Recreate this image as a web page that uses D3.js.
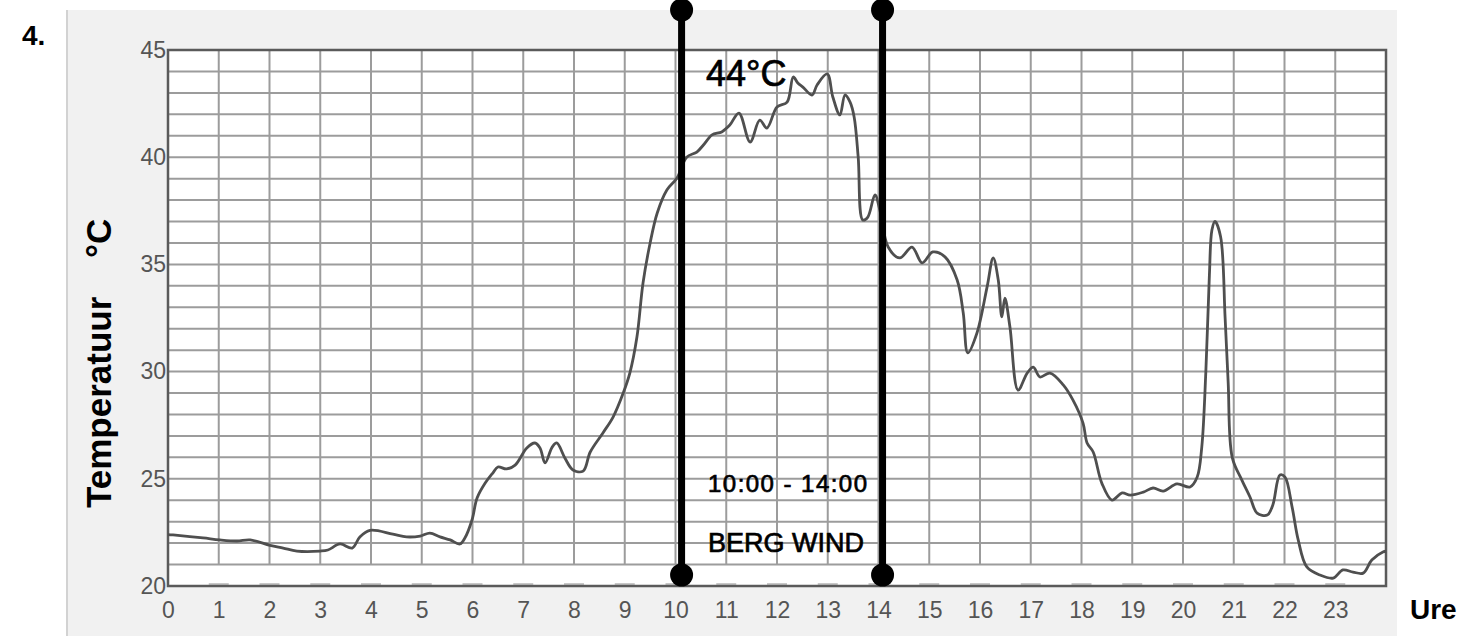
<!DOCTYPE html>
<html>
<head>
<meta charset="utf-8">
<script src="https://cdn.jsdelivr.net/npm/d3@7"></script>
<style>
  html, body { margin: 0; padding: 0; background: #fff; }
  svg { display: block; }
</style>
</head>
<body>
<svg id="chart" width="1473" height="636"></svg>
<script>
// hours of the day (x) and temperature in °C (y)
const hours = [
  0, 0.1, 0.69, 1.02, 1.36, 1.62, 2.01, 2.27, 2.54, 3.0, 3.15, 3.39, 3.63, 3.78, 3.98,
  4.43, 4.7, 4.97, 5.16, 5.36, 5.56, 5.75, 5.85, 5.99, 6.09, 6.25, 6.4, 6.5, 6.67, 6.84,
  7.07, 7.23, 7.33, 7.43, 7.57, 7.66, 7.82, 7.98, 8.18, 8.32, 8.57, 8.77, 8.97, 9.1,
  9.24, 9.36, 9.5, 9.64, 9.83, 10.03, 10.22, 10.42, 10.55, 10.72, 10.91, 11.07, 11.25,
  11.47, 11.66, 11.8, 12.0, 12.2, 12.32, 12.41, 12.51, 12.69, 12.79, 12.99, 13.1, 13.24,
  13.34, 13.44, 13.52, 13.6, 13.69, 13.79, 13.93, 14.03, 14.19, 14.42, 14.66, 14.86,
  15.07, 15.31, 15.55, 15.67, 15.76, 15.94, 16.14, 16.26, 16.36, 16.43, 16.49, 16.59,
  16.75, 16.93, 17.05, 17.18, 17.38, 17.64, 17.83, 18.03, 18.11, 18.23, 18.4, 18.6,
  18.8, 18.96, 19.22, 19.41, 19.61, 19.88, 20.14, 20.28, 20.37, 20.45, 20.52, 20.57,
  20.63, 20.74, 20.83, 20.89, 20.97, 21.16, 21.32, 21.46, 21.66, 21.77, 21.91, 22.01,
  22.15, 22.27, 22.44, 22.7, 22.96, 23.15, 23.35, 23.55, 23.72, 23.94, 24.0
]
const temps = [
  22.4, 22.38, 22.24, 22.15, 22.1, 22.15, 21.9, 21.77, 21.63, 21.63, 21.68, 21.96, 21.77, 22.29, 22.6,
  22.42, 22.29, 22.33, 22.47, 22.29, 22.15, 21.96, 22.24, 23.08, 24.1, 24.8, 25.27, 25.55, 25.46, 25.64,
  26.44, 26.67, 26.44, 25.74, 26.48, 26.67, 25.97, 25.41, 25.36, 26.25, 27.14, 27.88, 29.0, 29.93,
  31.61, 34.13, 36.0, 37.4, 38.47, 39.03, 40.0, 40.24, 40.57, 41.04, 41.18, 41.5, 42.06,
  40.71, 41.73, 41.36, 42.34, 42.57, 43.74, 43.46, 43.27, 42.9, 43.37, 43.88, 42.81, 41.97,
  42.9, 42.57, 41.88, 40.0, 37.07, 37.21, 38.24, 37.5, 35.81, 35.3, 35.81, 35.07,
  35.58, 35.35, 34.27, 32.73, 30.87, 31.8, 33.95, 35.3, 34.27, 32.55, 33.43, 32.08,
  29.14, 29.93, 30.21, 29.75, 29.93, 29.38, 28.68, 27.6, 26.67, 26.25, 24.8, 24.01,
  24.34, 24.24, 24.38, 24.57, 24.43, 24.76, 24.62, 25.08, 26.48, 30.0, 34.5, 36.6,
  37.0, 36.3, 32.5, 29.5, 26.0, 24.94, 24.15, 23.4, 23.31, 23.78, 25.18, 25.08,
  23.68, 22.15, 20.89, 20.51, 20.37, 20.75, 20.65, 20.6, 21.21, 21.59, 21.62
]

const xTicks = d3.range(0, 24)          // 0 .. 23
const yTicks = [20, 25, 30, 35, 40, 45]
const yMinor = d3.range(21, 45)          // one-degree grid lines
const bergWind = [10.12, 14.08]          // marker lines (10:00 and 14:00)

const width = 1473
const height = 636
const plot = { left: 168, right: 1386, top: 50, bottom: 586 }

const svg = d3.select('#chart')

const x = d3.scaleLinear([0, 24], [plot.left, plot.right])
const y = d3.scaleLinear([20, 45], [plot.bottom, plot.top])

// grey panel behind the chart
svg.append('rect')
  .attr('x', 67).attr('y', 10)
  .attr('width', 1330).attr('height', height - 10)
  .attr('fill', '#f1f1f1')
svg.append('line')
  .attr('x1', 67).attr('x2', 67).attr('y1', 10).attr('y2', height)
  .attr('stroke', '#d2d2d2').attr('stroke-width', 2)

// white plot area
svg.append('rect')
  .attr('x', plot.left).attr('y', plot.top)
  .attr('width', plot.right - plot.left).attr('height', plot.bottom - plot.top)
  .attr('fill', '#fff')

const grid = svg.append('g').attr('id', 'grid')
  .attr('stroke', '#9c9c9c').attr('stroke-width', 2)

grid.selectAll('line.h')
  .data(yMinor)
  .join('line')
  .attr('class', 'h')
  .attr('x1', plot.left).attr('x2', plot.right)
  .attr('y1', d => y(d)).attr('y2', d => y(d))

grid.selectAll('line.v')
  .data(xTicks.slice(1))
  .join('line')
  .attr('class', 'v')
  .attr('x1', d => x(d)).attr('x2', d => x(d))
  .attr('y1', y(45)).attr('y2', y(21))

// small ticks on the bottom axis
grid.selectAll('line.t')
  .data(xTicks.slice(1))
  .join('line')
  .attr('class', 't')
  .attr('x1', d => x(d) - 10).attr('x2', d => x(d) + 10)
  .attr('y1', y(20) - 2).attr('y2', y(20) - 2)
  .attr('stroke', '#c8c8c8')

// frame
svg.append('rect')
  .attr('x', plot.left).attr('y', plot.top)
  .attr('width', plot.right - plot.left).attr('height', plot.bottom - plot.top)
  .attr('fill', 'none')
  .attr('stroke', '#5a5a5a').attr('stroke-width', 2.5)

// axes
const xAxis = svg.append('g')
  .attr('transform', `translate(0,${plot.bottom})`)
  .call(d3.axisBottom(x).tickValues(xTicks).tickSize(0).tickPadding(16))
xAxis.select('.domain').remove()
xAxis.selectAll('text')
  .attr('font-family', 'Liberation Sans, Arial, sans-serif')
  .attr('font-size', 23)
  .attr('fill', '#555')

const yAxis = svg.append('g')
  .attr('transform', `translate(${plot.left},0)`)
  .call(d3.axisLeft(y).tickValues(yTicks).tickSize(0).tickPadding(2))
yAxis.select('.domain').remove()
yAxis.selectAll('text')
  .attr('font-family', 'Liberation Sans, Arial, sans-serif')
  .attr('font-size', 23)
  .attr('fill', '#555')

// temperature trace
const points = hours.map((h, i) => [h, temps[i]])
const line = d3.line()
  .x(d => x(d[0]))
  .y(d => y(d[1]))
  .curve(d3.curveCatmullRom.alpha(0.5))

svg.append('path')
  .datum(points)
  .attr('d', line)
  .attr('fill', 'none')
  .attr('stroke', '#4f4f4f')
  .attr('stroke-width', 2.8)
  .attr('stroke-linejoin', 'round')

// berg wind markers
const markers = svg.append('g').attr('id', 'markers')
markers.selectAll('line')
  .data(bergWind)
  .join('line')
  .attr('x1', d => x(d)).attr('x2', d => x(d))
  .attr('y1', 10).attr('y2', 575)
  .attr('stroke', '#000').attr('stroke-width', 7)
markers.selectAll('circle.top')
  .data(bergWind)
  .join('circle')
  .attr('class', 'top')
  .attr('cx', d => x(d)).attr('cy', 10).attr('r', 11.5)
markers.selectAll('circle.bot')
  .data(bergWind)
  .join('circle')
  .attr('class', 'bot')
  .attr('cx', d => x(d)).attr('cy', 575).attr('r', 11.5)

// annotation text, slightly heavier than regular weight
const annFont = 'Liberation Sans, Arial, sans-serif'
const ann = svg.append('g')
  .attr('font-family', annFont)
  .attr('fill', '#000').attr('stroke', '#000').attr('stroke-width', 0.7)
ann.append('text')
  .attr('x', 706).attr('y', 86)
  .attr('font-size', 36)
  .text('44°C')
ann.append('text')
  .attr('x', 708).attr('y', 492)
  .attr('font-size', 24)
  .attr('textLength', 159).attr('lengthAdjust', 'spacing')
  .text('10:00 - 14:00')
ann.append('text')
  .attr('x', 708).attr('y', 552)
  .attr('font-size', 27)
  .text('BERG WIND')

// titles
svg.append('text')
  .attr('x', 22).attr('y', 45)
  .attr('font-family', annFont).attr('font-size', 28).attr('font-weight', 'bold')
  .text('4.')

const yTitle = svg.append('g')
  .attr('transform', 'translate(111,0) rotate(-90)')
  .attr('font-family', annFont).attr('font-size', 35).attr('font-weight', 'bold')
yTitle.append('text').attr('x', -508).attr('y', 0).text('Temperatuur')
yTitle.append('text').attr('x', -258).attr('y', 0).text('°C')

svg.append('text')
  .attr('x', 1410).attr('y', 619)
  .attr('font-family', annFont).attr('font-size', 28).attr('font-weight', 'bold')
  .text('Ure')
</script>
</body>
</html>
